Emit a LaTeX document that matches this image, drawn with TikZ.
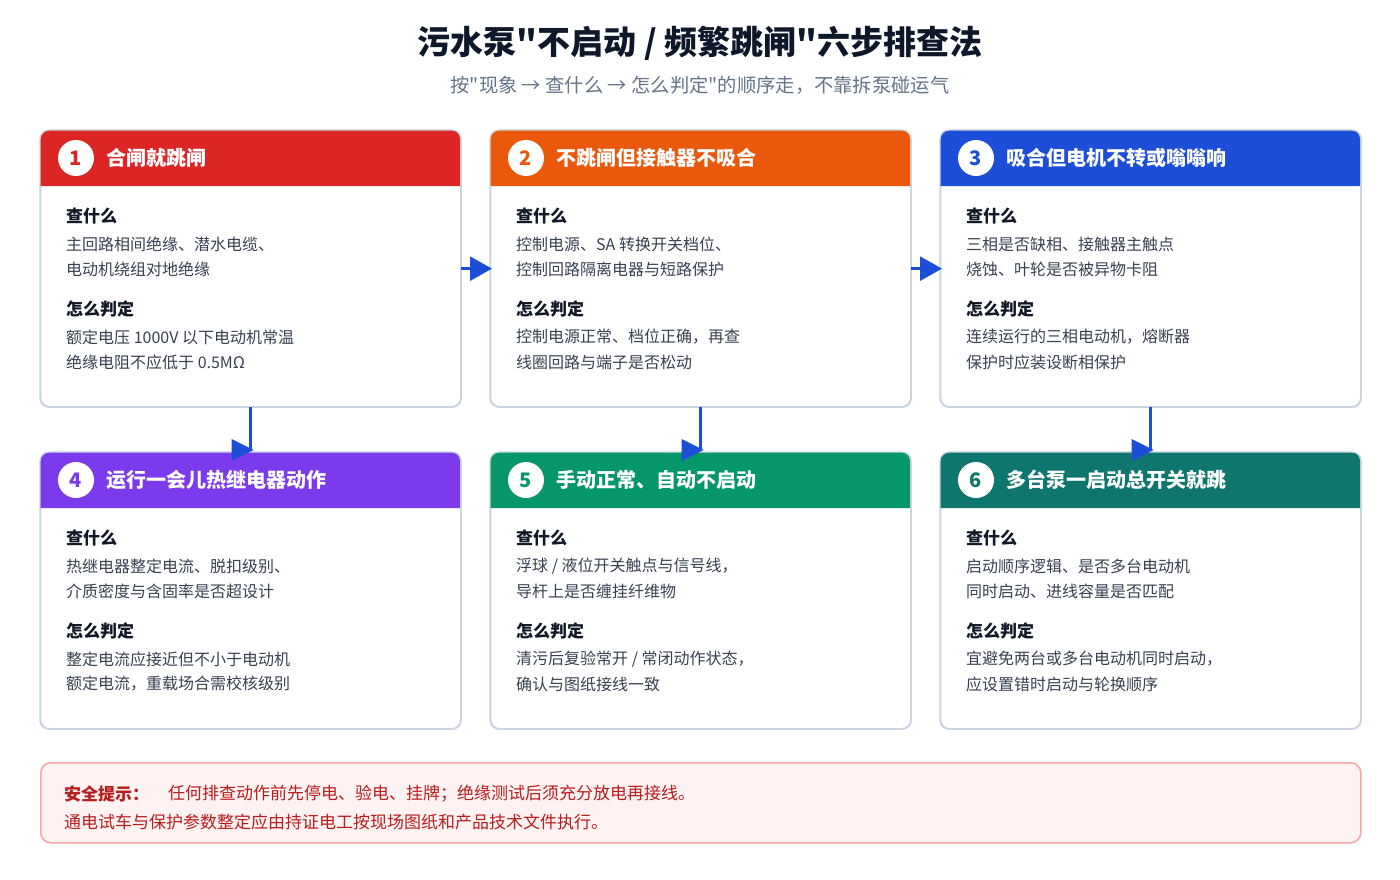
\documentclass[tikz,border=0pt]{standalone}
\usepackage{fontspec}
\setmainfont{Noto Sans CJK SC}[Ligatures=TeXOff]
\usetikzlibrary{arrows.meta,calc}
\definecolor{cA}{HTML}{DC2626}
\definecolor{cB}{HTML}{EA580C}
\definecolor{cC}{HTML}{1D4ED8}
\definecolor{cD}{HTML}{7C3AED}
\definecolor{cE}{HTML}{059669}
\definecolor{cF}{HTML}{0F766E}
\definecolor{bordergray}{HTML}{CBD5E1}
\definecolor{bodytext}{HTML}{374151}
\definecolor{headtext}{HTML}{111827}
\definecolor{titletext}{HTML}{0F172A}
\definecolor{subtext}{HTML}{64748B}
\definecolor{arrowblue}{HTML}{1D4ED8}
\definecolor{warnfill}{HTML}{FEF2F2}
\definecolor{warnborder}{HTML}{F8A5A5}
\definecolor{warntext}{HTML}{B91C1C}
\tikzset{
  cardbox/.style={draw=bordergray,line width=1.3pt,fill=white,rounded corners=9pt,minimum width=420pt,minimum height=276pt,inner sep=0pt,anchor=north west},
  badge/.style={circle,fill=white,minimum size=36pt,inner sep=0pt,font=\fontsize{20}{24}\selectfont\bfseries},
  cardtitle/.style={anchor=west,text=white,inner sep=0pt,font=\fontsize{20}{24}\selectfont\bfseries},
  subhead/.style={anchor=west,text=headtext,inner sep=0pt,font=\fontsize{17}{20}\selectfont\bfseries},
  bodyline/.style={anchor=west,text=bodytext,inner sep=0pt,font=\fontsize{16}{19}\selectfont},
  warnline/.style={anchor=west,inner sep=0pt,text=warntext,font=\fontsize{17}{20}\selectfont},
  flow/.style={draw=arrowblue,line width=2.6pt},
  flowarrow/.style={flow,-{Triangle[length=22pt,width=24pt]}},
}
% #1 x, #2 y, #3 colour, #4 number (node name c#4), #5 title, #6-#9 lines
\newcommand{\stepcard}[9]{%
  \node[cardbox] (c#4) at (#1,#2) {};
  \fill[#3] (#1,#2+56) {[rounded corners=9pt] -- (#1,#2) -- (#1+420,#2)} -- (#1+420,#2+56) -- cycle;
  \draw[bordergray,line width=1.3pt,rounded corners=9pt] (c#4.north west) rectangle (c#4.south east);
  \node[badge,text=#3] (c#4n) at (#1+36,#2+28) {#4};
  \node[cardtitle] (c#4t) at (#1+66,#2+28) {#5};
  \node[subhead] (c#4q) at (#1+26,#2+86) {查什么};
  \node[bodyline] (c#4a) at (#1+26,#2+114) {#6};
  \node[bodyline] (c#4b) at (#1+26,#2+139) {#7};
  \node[subhead] (c#4j) at (#1+26,#2+179) {怎么判定};
  \node[bodyline] (c#4c) at (#1+26,#2+207) {#8};
  \node[bodyline] (c#4d) at (#1+26,#2+232) {#9};
}
\begin{document}
\begin{tikzpicture}[x=1pt,y=-1pt]
\useasboundingbox (0,0) rectangle (1400,880);
\fill[white] (0,0) rectangle (1400,880);
\node[text=titletext,font=\fontsize{33}{38}\selectfont\bfseries,inner sep=0pt] (title) at (700,43) {污水泵"不启动 / 频繁跳闸"六步排查法};
\node[text=subtext,font=\fontsize{19.3}{22}\selectfont,inner sep=0pt] (subtitle) at (700,85) {按"现象 → 查什么 → 怎么判定"的顺序走，不靠拆泵碰运气};

\stepcard{40}{130}{cA}{1}{合闸就跳闸}{主回路相间绝缘、潜水电缆、}{电动机绕组对地绝缘}{额定电压 1000V 以下电动机常温}{绝缘电阻不应低于 0.5MΩ}
\stepcard{490}{130}{cB}{2}{不跳闸但接触器不吸合}{控制电源、SA 转换开关档位、}{控制回路隔离电器与短路保护}{控制电源正常、档位正确，再查}{线圈回路与端子是否松动}
\stepcard{940}{130}{cC}{3}{吸合但电机不转或嗡嗡响}{三相是否缺相、接触器主触点}{烧蚀、叶轮是否被异物卡阻}{连续运行的三相电动机，熔断器}{保护时应装设断相保护}
\stepcard{40}{452}{cD}{4}{运行一会儿热继电器动作}{热继电器整定电流、脱扣级别、}{介质密度与含固率是否超设计}{整定电流应接近但不小于电动机}{额定电流，重载场合需校核级别}
\stepcard{490}{452}{cE}{5}{手动正常、自动不启动}{浮球 / 液位开关触点与信号线，}{导杆上是否缠挂纤维物}{清污后复验常开 / 常闭动作状态，}{确认与图纸接线一致}
\stepcard{940}{452}{cF}{6}{多台泵一启动总开关就跳}{启动顺序逻辑、是否多台电动机}{同时启动、进线容量是否匹配}{宜避免两台或多台电动机同时启动，}{应设置错时启动与轮换顺序}

% horizontal connectors
\draw[flowarrow,shorten >=-2pt] (c1.east) -- (c2.west);
\draw[flowarrow,shorten >=-2pt] (c2.east) -- (c3.west);
% vertical connectors (arrowheads drawn pointing right, as in the reference)
\foreach \a/\b in {c1/c4,c2/c5,c3/c6}{
  \draw[flow] (\a.south) -- ($(\b.north)+(0,-1)$);
  \fill[arrowblue] ($(\b.north)+(3,-2)$) -- ($(\b.north)+(-19,-13)$) -- ($(\b.north)+(-19,9)$) -- cycle;
}

% safety box
\node[draw=warnborder,line width=1.5pt,fill=warnfill,rounded corners=10pt,minimum width=1320pt,minimum height=80pt,anchor=north west,inner sep=0pt] (warn) at (40,762) {};
\node[warnline,font=\fontsize{17}{20}\selectfont\bfseries] (warnlabel) at (64,794) {安全提示：};
\node[warnline] (warn1) at (168,794) {任何排查动作前先停电、验电、挂牌；绝缘测试后须充分放电再接线。};
\node[warnline] (warn2) at (64,822) {通电试车与保护参数整定应由持证电工按现场图纸和产品技术文件执行。};
\end{tikzpicture}
\end{document}
